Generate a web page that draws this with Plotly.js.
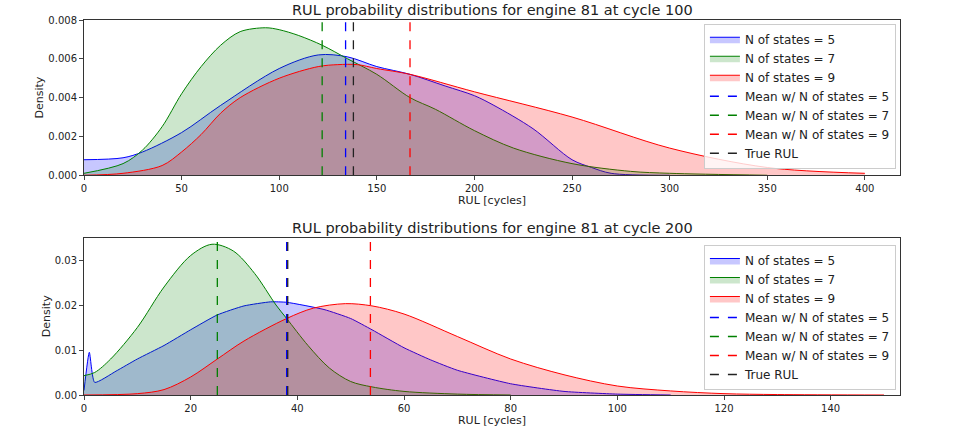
<!DOCTYPE html><html><head><script src="https://cdn.plot.ly/plotly-3.0.1.min.js"></script></head><body style="margin:0"><div id="c" style="width:955px;height:438px"></div><script>
const x1_5=[0,20,30,50,70,100,120,135,150,167,185,200,210,230,250,260,270,300];
const y1_5=[0.0008,0.0009,0.0012,0.0022,0.0036,0.0055,0.0062,0.0061,0.0056,0.0052,0.0046,0.0041,0.0036,0.0024,0.0008,0.0004,0.0001,0];
const x1_7=[0,20,30,40,50,60,70,80,93,100,110,122,135,150,167,180,200,220,250,280,300,350];
const y1_7=[0.0001,0.0006,0.0013,0.0025,0.0042,0.0056,0.0067,0.0074,0.0076,0.0075,0.0072,0.0067,0.006,0.0052,0.0040,0.0034,0.0023,0.0014,0.0006,0.0002,0.0001,0];
const x1_9=[0,20,40,50,60,70,80,100,120,130,140,150,167,200,250,300,350,400];
const y1_9=[0,0.0001,0.0005,0.0012,0.0021,0.0032,0.0040,0.0050,0.0056,0.0057,0.0057,0.0055,0.0052,0.0043,0.0030,0.0014,0.0004,0.0001];
const means1=[134,122,167], trueRUL1=138;
const x2_5=[0,1,2,6,10,15,20,25,30,35,38,45,50,54,60,65,70,80,90,100,110];
const y2_5=[0.001,0.0095,0.0028,0.0053,0.008,0.011,0.0145,0.0178,0.0198,0.0207,0.0206,0.019,0.017,0.0145,0.0105,0.0078,0.0055,0.0025,0.0008,0.0002,0];
const x2_7=[0,2,5,10,15,20,24,28,32,36,38,42,46,50,54,60,70,80];
const y2_7=[0.0043,0.005,0.008,0.015,0.024,0.031,0.0335,0.032,0.027,0.020,0.017,0.011,0.006,0.003,0.0018,0.0008,0.0002,0];
const x2_9=[0,10,15,20,25,30,38,43,49,54,60,70,80,90,100,110,120,130,150];
const y2_9=[0,0.0003,0.0012,0.004,0.008,0.012,0.017,0.0193,0.0203,0.0198,0.018,0.013,0.008,0.0045,0.002,0.0009,0.0003,0.0001,0];
const means2=[38,25,53.7], trueRUL2=38.2;
const names=['N of states = 5','N of states = 7','N of states = 9'];
const cols=['#0000ff','#008000','#ff0000'];
const fills=['rgba(0,0,255,0.22)','rgba(0,128,0,0.2)','rgba(255,0,0,0.22)'];
const tr=[];
function add(xs,ys,means,tru,xa,ya,ymax,lgd){
  xs.forEach((x,i)=>tr.push({x:x,y:ys[i],xaxis:xa,yaxis:ya,type:'scatter',mode:'lines',fill:'tozeroy',fillcolor:fills[i],line:{color:cols[i],width:1,shape:'spline',smoothing:(xa=='x2'&&i==0)?0.5:0.9},name:names[i],legend:lgd}));
  means.forEach((m,i)=>tr.push({x:[m,m],y:[0,ymax],xaxis:xa,yaxis:ya,mode:'lines',line:{color:cols[i],width:1.3,dash:'dash'},name:'Mean w/ '+names[i],legend:lgd}));
  tr.push({x:[tru,tru],y:[0,ymax],xaxis:xa,yaxis:ya,mode:'lines',line:{color:'#222',width:1.3,dash:'dash'},name:'True RUL',legend:lgd});
}
add([x1_5,x1_7,x1_9],[y1_5,y1_7,y1_9],means1,trueRUL1,'x','y',0.008,'legend');
add([x2_5,x2_7,x2_9],[y2_5,y2_7,y2_9],means2,trueRUL2,'x2','y2',0.035,'legend2');
const ax={showline:true,mirror:true,linecolor:'#333',ticks:'outside',ticklen:4,showgrid:false,zeroline:false,tickfont:{size:10,color:'#222'}};
const lg={bordercolor:'#ccc',borderwidth:1,bgcolor:'rgba(255,255,255,0.8)',font:{size:12},xanchor:'right',x:0.995,tracegroupgap:0};
Plotly.newPlot('c',tr,{width:955,height:438,margin:{l:84,r:55,t:20,b:43},showlegend:true,
font:{family:'DejaVu Sans',color:'#222'},plot_bgcolor:'white',
xaxis:Object.assign({},ax,{range:[0,418],dtick:50,anchor:'y',title:{text:'RUL [cycles]',font:{size:11},standoff:2}}),
yaxis:Object.assign({},ax,{domain:[0.586,1],range:[0,0.008],dtick:0.002,tickformat:'.3f',title:{text:'Density',font:{size:11}}}),
xaxis2:Object.assign({},ax,{range:[0,153],dtick:20,anchor:'y2',title:{text:'RUL [cycles]',font:{size:11},standoff:2}}),
yaxis2:Object.assign({},ax,{domain:[0,0.42],range:[0,0.035],dtick:0.01,tickformat:'.2f',title:{text:'Density',font:{size:11}}}),
legend:Object.assign({},lg,{y:0.99,yanchor:'top'}),
legend2:Object.assign({},lg,{y:0.40,yanchor:'top'}),
annotations:[{text:'RUL probability distributions for engine 81 at cycle 100',xref:'paper',yref:'paper',x:0.5,y:1,yanchor:'bottom',showarrow:false,font:{size:14.5}},
{text:'RUL probability distributions for engine 81 at cycle 200',xref:'paper',yref:'paper',x:0.5,y:0.42,yanchor:'bottom',showarrow:false,font:{size:14.5}}]
},{displayModeBar:false});
</script></body></html>
